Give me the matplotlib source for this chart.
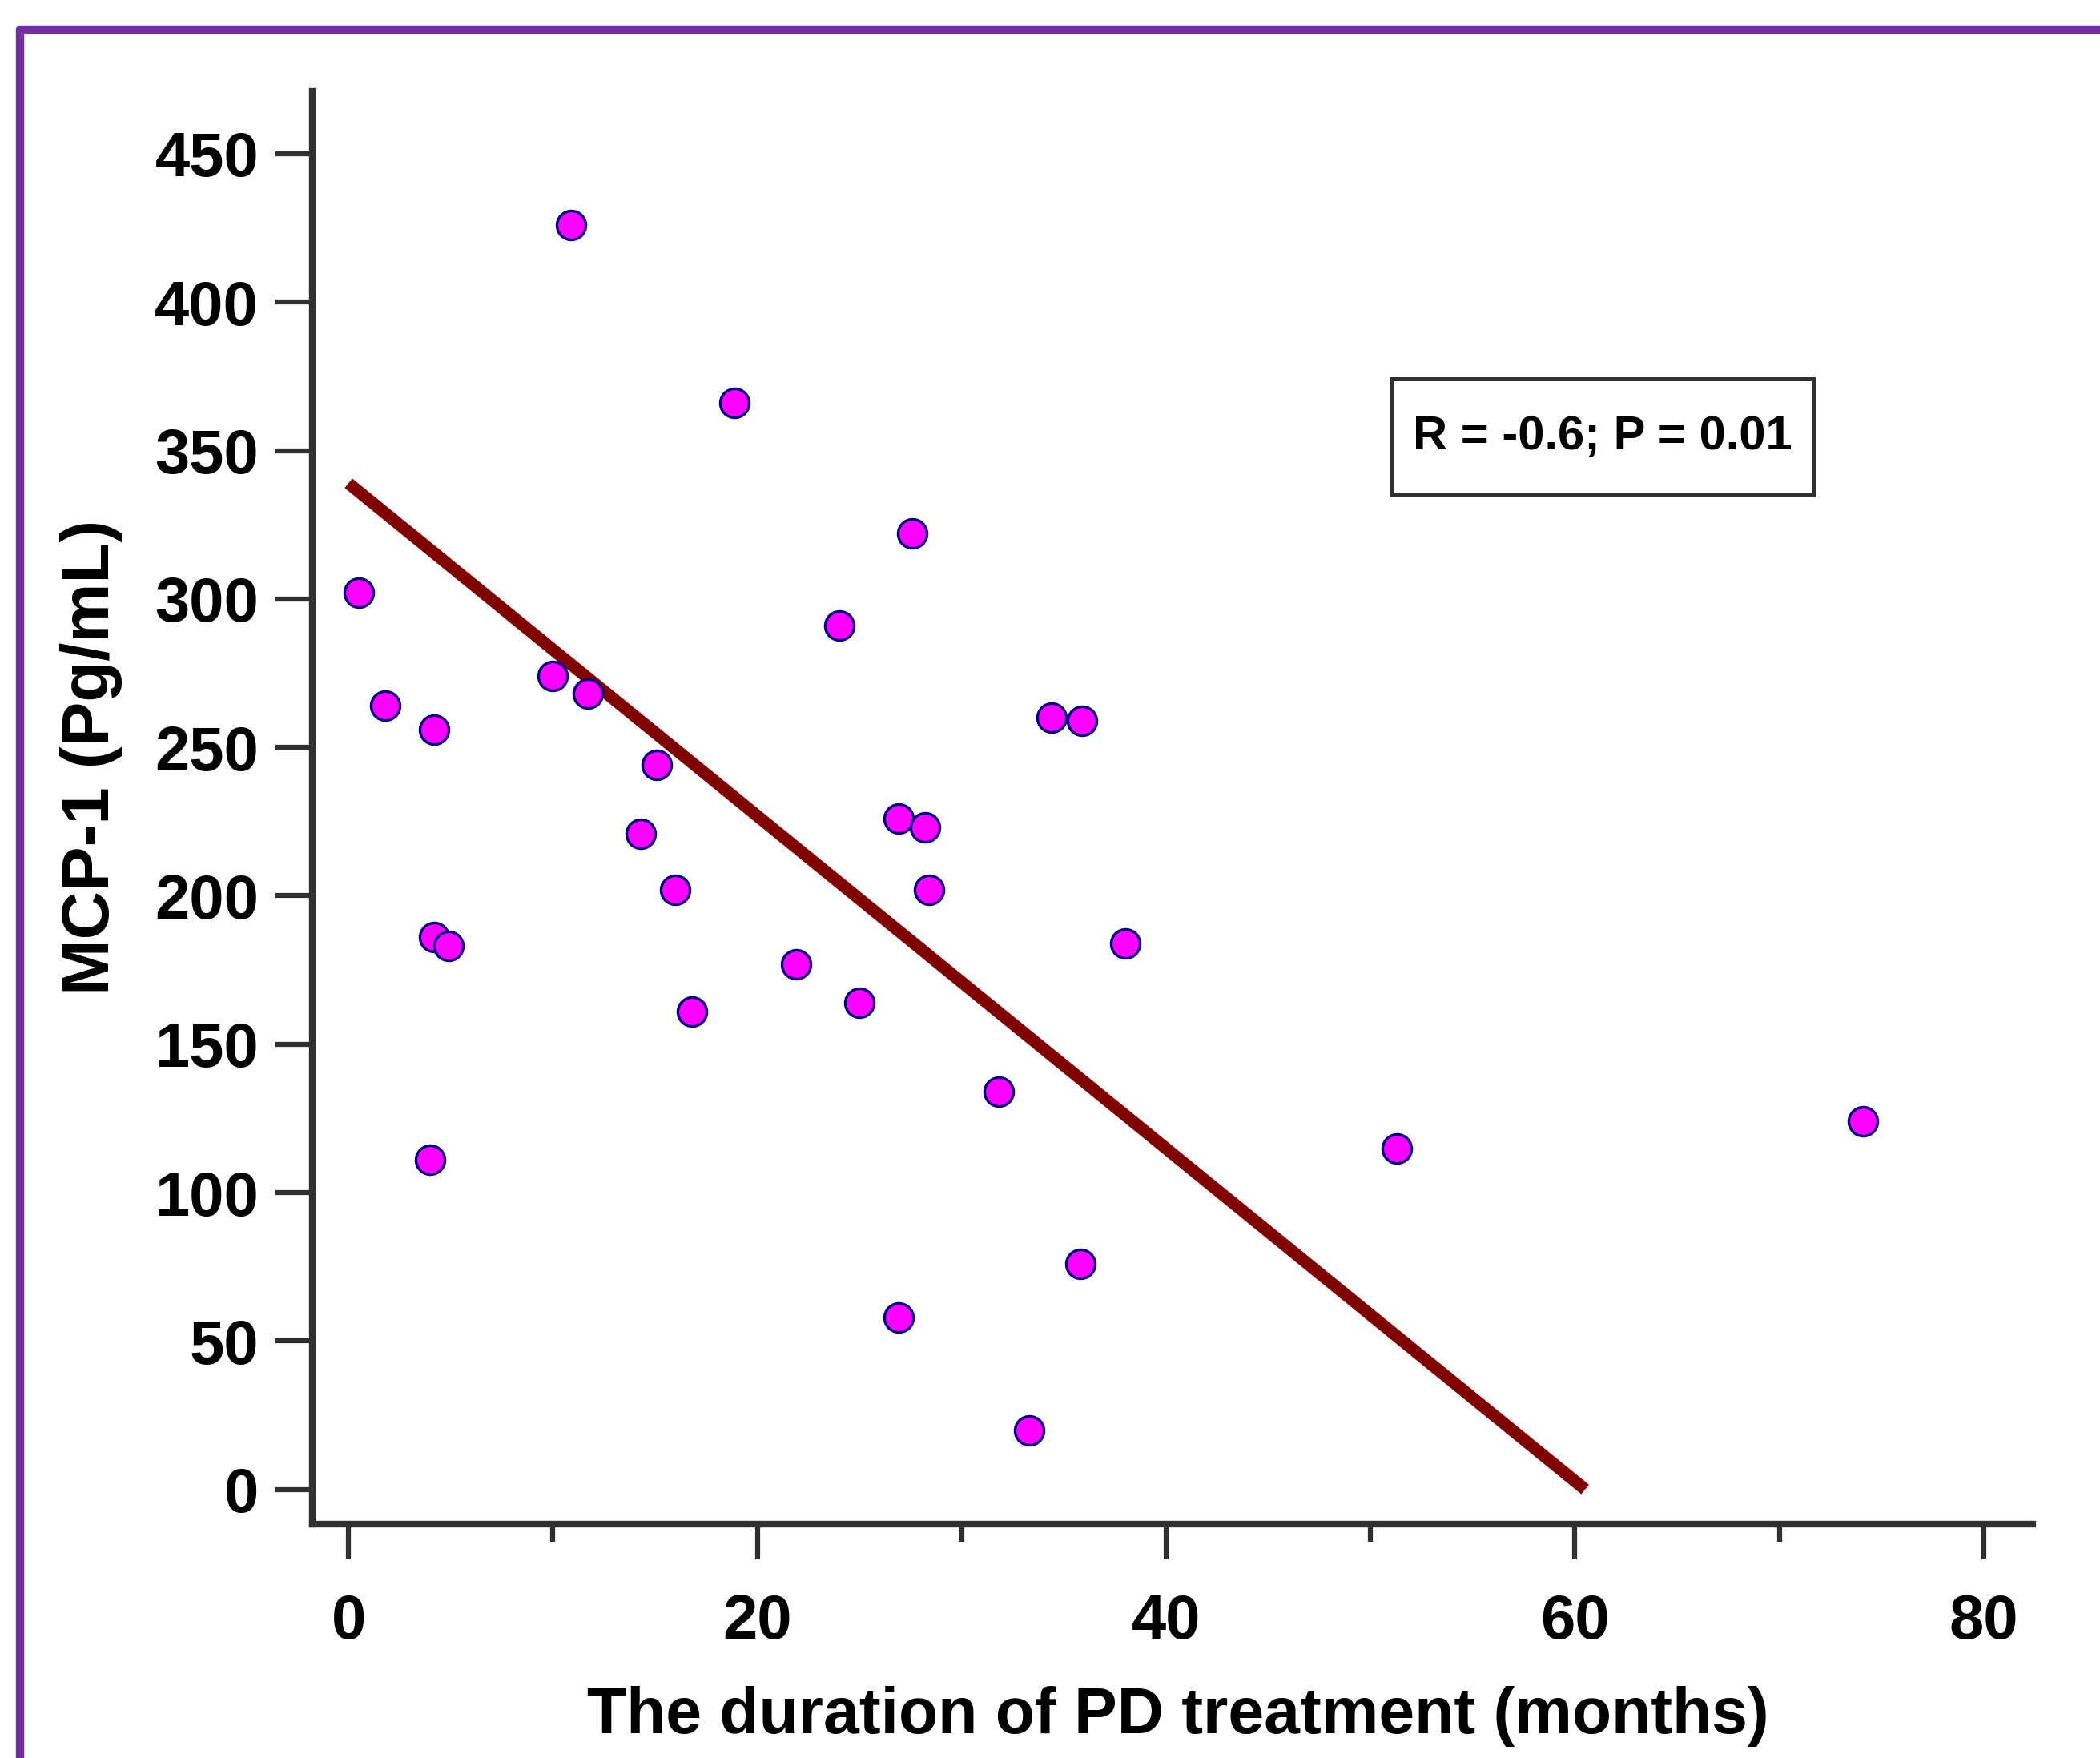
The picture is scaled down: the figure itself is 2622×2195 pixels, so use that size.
#! /usr/bin/env python3

import matplotlib
matplotlib.use('Agg')
import matplotlib.pyplot as plt
from matplotlib.patches import Rectangle
from matplotlib.ticker import MultipleLocator

# duration of PD treatment (months) and MCP-1 (pg/mL)
months = [0.5, 1.8, 4.2, 4.2, 4.9, 4.0, 10.0, 10.9, 11.7, 14.3,
          15.1, 16.0, 16.8, 18.9, 21.9, 24.0, 25.0, 26.9, 26.9, 27.6,
          28.2, 28.4, 31.8, 33.3, 34.4, 35.8, 35.9, 38.0, 51.3, 74.1]
mcp1 = [302, 264, 256, 186, 183, 111, 274, 426, 268, 221,
        244, 202, 161, 366, 177, 291, 164, 226, 58, 322,
        223, 202, 134, 20, 260, 76, 259, 184, 115, 124]

# fitted line end points
fit_x = [0, 60.5]
fit_y = [339, 0]

x_ticks = [0, 20, 40, 60, 80]
y_ticks = [0, 50, 100, 150, 200, 250, 300, 350, 400, 450]
stats_text = "R = -0.6; P = 0.01"

font = ['Liberation Sans Narrow', 'Liberation Sans', 'DejaVu Sans']
plt.rcParams['font.family'] = font
plt.rcParams['font.weight'] = 'bold'

fig = plt.figure(figsize=(26.22, 21.95), dpi=100)
ax = fig.add_axes([0.1487, 0.133, 0.8193, 0.815])

# purple frame round the picture (right and bottom edges cut off)
frame = Rectangle((25 / 2622, -0.2), 1.5, 1.2 - 37 / 2195, transform=fig.transFigure,
                  fill=False, edgecolor='#7030A0', linewidth=7.5, clip_on=False,
                  joinstyle='round')
fig.patches.append(frame)

ax.plot(fit_x, fit_y, color='#800000', linewidth=11, solid_capstyle='butt', zorder=2)
ax.plot(months, mcp1, linestyle='none', marker='o', markersize=26,
        markerfacecolor='#FF00FF', markeredgecolor='#000080',
        markeredgewidth=2.4, zorder=3)

ax.set_xlim(-1.77, 82.4)
ax.set_ylim(-11.7, 471)
ax.set_xticks(x_ticks)
ax.set_yticks(y_ticks)
ax.xaxis.set_minor_locator(MultipleLocator(10))

for side in ['top', 'right']:
    ax.spines[side].set_visible(False)
for side in ['left', 'bottom']:
    ax.spines[side].set_linewidth(6)
    ax.spines[side].set_color('#303030')
    ax.spines[side].set_capstyle('projecting')

ax.tick_params(axis='x', which='major', direction='out', length=32, width=4.5,
               color='#303030', pad=30, labelsize=56)
ax.tick_params(axis='x', which='minor', direction='out', length=16, width=4.5,
               color='#303030')
ax.tick_params(axis='y', which='major', direction='out', length=34, width=4.5,
               color='#303030', pad=14, labelsize=56)
for lab in ax.get_xticklabels() + ax.get_yticklabels():
    lab.set_fontweight('bold')

ax.set_xlabel("The duration of PD treatment (months)", fontsize=58, fontweight='bold')
ax.set_ylabel("MCP-1 (Pg/mL)", fontsize=60, fontweight='bold')
ax.xaxis.set_label_coords(0.503, -0.134)
ax.xaxis.label.set_va('center')
ax.yaxis.set_label_coords(-0.1285, 0.5355)
ax.yaxis.label.set_va('center')

# statistics box
box_x, box_y, box_w, box_h = 0.750, 0.759, 0.245, 0.081
ax.add_patch(Rectangle((box_x - box_w / 2, box_y - box_h / 2), box_w, box_h,
                       transform=ax.transAxes, facecolor='white',
                       edgecolor='#303030', linewidth=3.6, zorder=4))
ax.text(box_x, box_y, stats_text, transform=ax.transAxes, ha='center', va='center',
        fontsize=43, fontweight='bold', zorder=5)

fig.savefig('out.png', dpi=100, facecolor='white')
